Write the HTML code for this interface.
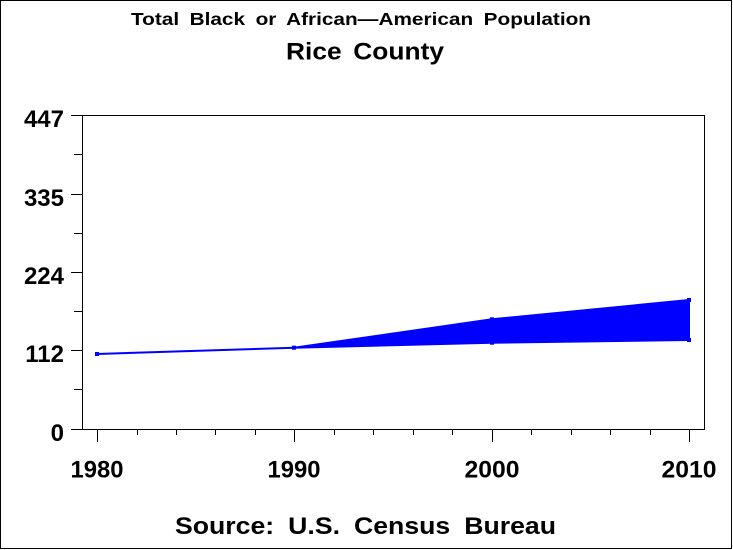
<!DOCTYPE html>
<html>
<head>
<meta charset="utf-8">
<style>
  html, body { margin: 0; padding: 0; background: #fff; }
  svg { display: block; }
  text { font-family: "Liberation Sans", Arial, sans-serif; fill: #000; font-weight: bold; }
</style>
</head>
<body>
<svg width="733" height="550" viewBox="0 0 733 550" xmlns="http://www.w3.org/2000/svg">
  <rect x="0" y="0" width="733" height="550" fill="#fff"/>
  <!-- outer frame -->
  <rect x="0.5" y="0.5" width="731" height="548" fill="none" stroke="#000" stroke-width="1"/>

  <!-- titles -->
  <text x="131" y="25" font-size="17.5" word-spacing="4" textLength="460" lengthAdjust="spacingAndGlyphs">Total Black or African—American Population</text>
  <text x="286" y="59.5" font-size="24.5" word-spacing="4" textLength="158" lengthAdjust="spacingAndGlyphs">Rice County</text>

  <!-- plot frame -->
  <rect x="82.5" y="115.5" width="622" height="314" fill="none" stroke="#000" stroke-width="1"/>

  <!-- y ticks -->
  <g stroke="#000" stroke-width="1">
    <line x1="71" y1="429.5" x2="82" y2="429.5"/>
    <line x1="71" y1="350.5" x2="82" y2="350.5"/>
    <line x1="71" y1="272.5" x2="82" y2="272.5"/>
    <line x1="71" y1="194.5" x2="82" y2="194.5"/>
    <line x1="71" y1="115.5" x2="82" y2="115.5"/>
    <line x1="74" y1="389.5" x2="82" y2="389.5"/>
    <line x1="74" y1="311.5" x2="82" y2="311.5"/>
    <line x1="74" y1="233.5" x2="82" y2="233.5"/>
    <line x1="74" y1="154.5" x2="82" y2="154.5"/>
  </g>
  <g font-size="24" text-anchor="end">
    <text x="64" y="441">0</text>
    <text x="64" y="362">112</text>
    <text x="64" y="284">224</text>
    <text x="64" y="206">335</text>
    <text x="64" y="127">447</text>
  </g>

  <!-- x ticks -->
  <g stroke="#000" stroke-width="1">
    <line x1="97.5" y1="429" x2="97.5" y2="442"/>
    <line x1="294.5" y1="429" x2="294.5" y2="442"/>
    <line x1="492.5" y1="429" x2="492.5" y2="442"/>
    <line x1="689.5" y1="429" x2="689.5" y2="442"/>
    <line x1="137.5" y1="429" x2="137.5" y2="435"/>
    <line x1="176.5" y1="429" x2="176.5" y2="435"/>
    <line x1="215.5" y1="429" x2="215.5" y2="435"/>
    <line x1="255.5" y1="429" x2="255.5" y2="435"/>
    <line x1="334.5" y1="429" x2="334.5" y2="435"/>
    <line x1="373.5" y1="429" x2="373.5" y2="435"/>
    <line x1="413.5" y1="429" x2="413.5" y2="435"/>
    <line x1="452.5" y1="429" x2="452.5" y2="435"/>
    <line x1="531.5" y1="429" x2="531.5" y2="435"/>
    <line x1="571.5" y1="429" x2="571.5" y2="435"/>
    <line x1="610.5" y1="429" x2="610.5" y2="435"/>
    <line x1="650.5" y1="429" x2="650.5" y2="435"/>
  </g>
  <g font-size="24" text-anchor="middle">
    <text x="97" y="477.5" textLength="53" lengthAdjust="spacingAndGlyphs">1980</text>
    <text x="294" y="477.5" textLength="53" lengthAdjust="spacingAndGlyphs">1990</text>
    <text x="492" y="477.5" textLength="55" lengthAdjust="spacingAndGlyphs">2000</text>
    <text x="689" y="477.5" textLength="55" lengthAdjust="spacingAndGlyphs">2010</text>
  </g>

  <!-- data -->
  <line x1="97" y1="354" x2="294" y2="347.7" stroke="#0000ff" stroke-width="2"/>
  <polygon points="294,347.7 492,319.3 689,300 689,340 492,342.7" fill="#0000ff" stroke="#0000ff" stroke-width="2" stroke-linejoin="round"/>
  <g fill="#0000ff">
    <rect x="95" y="352" width="4" height="4"/>
    <rect x="292" y="345.7" width="4" height="4"/>
    <rect x="490" y="317.3" width="4" height="4"/>
    <rect x="490" y="340.7" width="4" height="4"/>
    <rect x="687" y="298" width="4" height="4"/>
    <rect x="687" y="338" width="4" height="4"/>
  </g>

  <!-- footnote -->
  <text x="175" y="534" font-size="24" word-spacing="6" textLength="381" lengthAdjust="spacingAndGlyphs">Source: U.S. Census Bureau</text>
</svg>
</body>
</html>
